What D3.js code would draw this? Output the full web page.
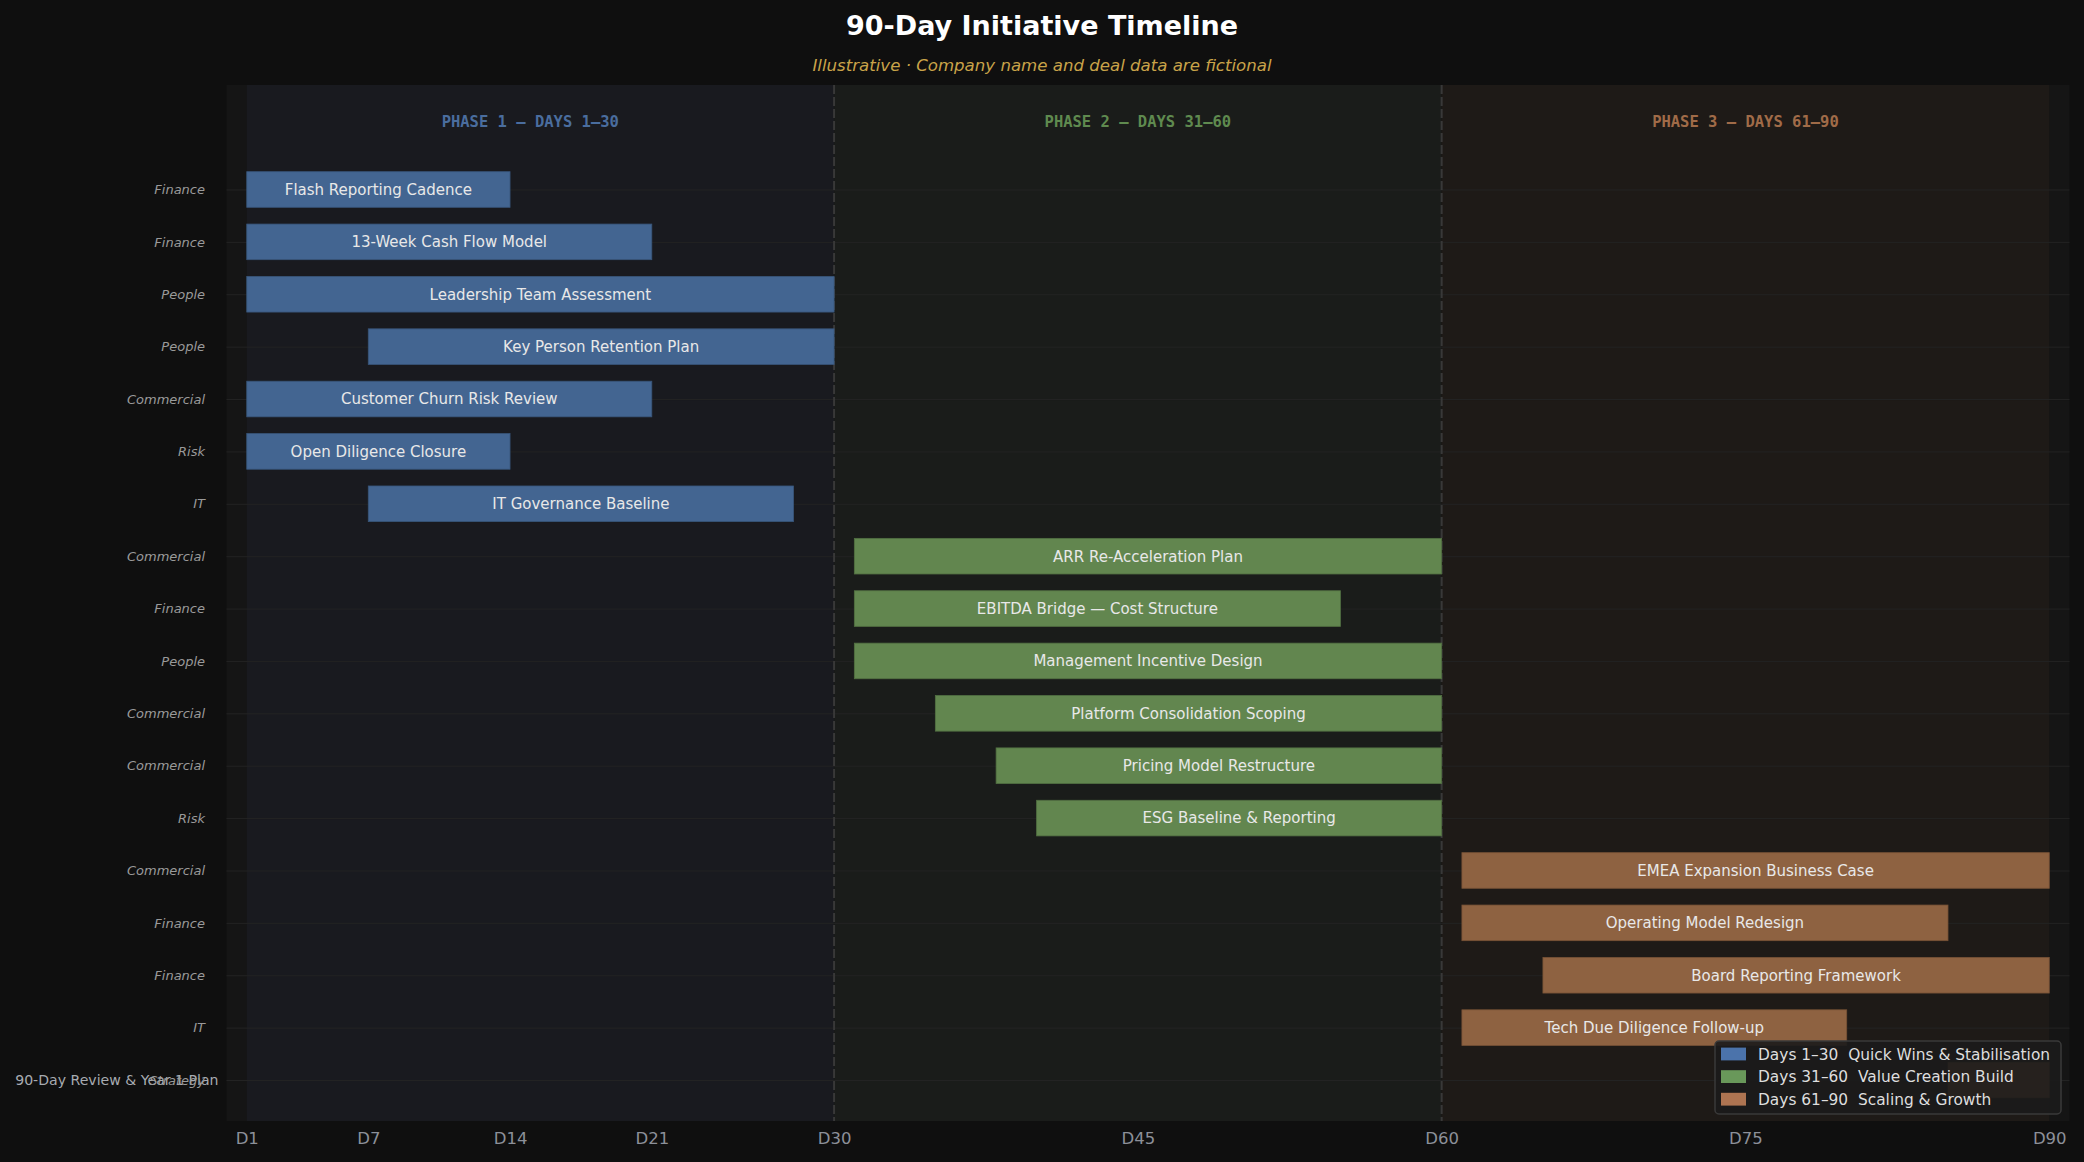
<!DOCTYPE html>
<html>
<head>
<meta charset="utf-8">
<script src="https://cdn.jsdelivr.net/npm/d3@7"></script>
<style>
  html, body { margin: 0; padding: 0; background: #0f0f0f; }
  svg { display: block; }
</style>
</head>
<body>
<div id="chart"></div>
<script>
// ---------------- DATA ----------------
const categories = ["Finance","Finance","People","People","Commercial","Risk","IT",
  "Commercial","Finance","People","Commercial","Commercial","Risk",
  "Commercial","Finance","Finance","IT","Strategy"];
const initiatives = ["Flash Reporting Cadence","13-Week Cash Flow Model","Leadership Team Assessment",
  "Key Person Retention Plan","Customer Churn Risk Review","Open Diligence Closure","IT Governance Baseline",
  "ARR Re-Acceleration Plan","EBITDA Bridge \u2014 Cost Structure","Management Incentive Design",
  "Platform Consolidation Scoping","Pricing Model Restructure","ESG Baseline & Reporting",
  "EMEA Expansion Business Case","Operating Model Redesign","Board Reporting Framework",
  "Tech Due Diligence Follow-up","90-Day Review & Year 1 Plan"];
const startDays = [1,1,1,7,1,1,7, 31,31,31,35,38,40, 61,61,65,61,85];
const endDays   = [14,21,30,30,21,14,28, 60,55,60,60,60,60, 90,85,90,80,90];
const phaseOf   = [1,1,1,1,1,1,1, 2,2,2,2,2,2, 3,3,3,3,3];

const phaseIds = [1,2,3];
const phaseStart = [1,30,60];
const phaseEnd = [30,60,90];
const phaseLabelDay = [15,45,75];
const phaseLabels = ["PHASE 1 \u2014 DAYS 1\u201330","PHASE 2 \u2014 DAYS 31\u201360","PHASE 3 \u2014 DAYS 61\u201390"];
const legendLabels = ["Days 1\u201330  Quick Wins & Stabilisation","Days 31\u201360  Value Creation Build","Days 61\u201390  Scaling & Growth"];
const dividerDays = [30,60];
const tickDays = [1,7,14,21,30,45,60,75,90];
const tickLabels = ["D1","D7","D14","D21","D30","D45","D60","D75","D90"];

// ---------------- STYLE ----------------
const W = 2084, H = 1162;
const barColor = {1:"#436591", 2:"#62864f", 3:"#8e6241"};
const swatchColor = {1:"#4b73ab", 2:"#69985a", 3:"#ae7451"};
const bandColor = {1:"#191a1f", 2:"#1a1c1a", 3:"#1e1a17"};
const phaseTextColor = {1:"#4a6d9e", 2:"#5f8a4f", 3:"#a06b48"};
const FONT = "'DejaVu Sans', sans-serif";
const MONO = "'DejaVu Sans Mono', monospace";

const panelTop = 85, panelBottom = 1121;

const svg = d3.select("#chart").append("svg").attr("width", W).attr("height", H);
svg.append("rect").attr("width", W).attr("height", H).attr("fill", "#0f0f0f");

const x = d3.scaleLinear().domain([0, 91]).range([226.5, 2069.5]);
const y = d3.scaleBand().domain(d3.range(categories.length))
  .range([163.3, 1106.2]).paddingInner(0.32).paddingOuter(0.16);
const yc = i => y(i) + y.bandwidth() / 2;

// panel
svg.append("rect").attr("x", x(0)).attr("y", panelTop)
  .attr("width", x(91) - x(0)).attr("height", panelBottom - panelTop)
  .attr("fill", "#151515");

// phase bands
svg.selectAll("rect.band").data(phaseIds).join("rect").attr("class","band")
  .attr("x", p => x(phaseStart[p-1])).attr("y", panelTop)
  .attr("width", p => x(phaseEnd[p-1]) - x(phaseStart[p-1]))
  .attr("height", panelBottom - panelTop)
  .attr("fill", p => bandColor[p]);

// grid lines
svg.selectAll("line.grid").data(d3.range(categories.length)).join("line").attr("class","grid")
  .attr("x1", x(0)).attr("x2", x(91))
  .attr("y1", i => yc(i) + 0.5).attr("y2", i => yc(i) + 0.5)
  .attr("stroke", "#232323").attr("stroke-width", 1);

// dividers
svg.selectAll("line.div").data(dividerDays).join("line").attr("class","div")
  .attr("x1", d => x(d)).attr("x2", d => x(d))
  .attr("y1", panelTop).attr("y2", panelBottom)
  .attr("stroke", "#383838").attr("stroke-width", 2).attr("stroke-dasharray", "9,3");

// phase labels
svg.selectAll("text.phase").data(phaseIds).join("text").attr("class","phase")
  .attr("x", p => x(phaseLabelDay[p-1])).attr("y", 127)
  .attr("text-anchor", "middle")
  .attr("font-family", MONO).attr("font-weight", "bold").attr("font-size", "15.5px")
  .attr("fill", p => phaseTextColor[p])
  .text(p => phaseLabels[p-1]);

// bars
const idx = d3.range(categories.length);
svg.selectAll("rect.bar").data(idx).join("rect").attr("class","bar")
  .attr("x", i => x(startDays[i])).attr("y", i => y(i))
  .attr("width", i => x(endDays[i]) - x(startDays[i]))
  .attr("height", y.bandwidth())
  .attr("fill", i => barColor[phaseOf[i]])
  .attr("stroke", i => d3.color(barColor[phaseOf[i]]).darker(0.5))
  .attr("stroke-width", 0.8);

// bar labels
svg.selectAll("text.blabel").data(idx).join("text").attr("class","blabel")
  .each(function(i) {
    const w = x(endDays[i]) - x(startDays[i]);
    const t = d3.select(this);
    if (w < 150) {
      t.attr("x", x(0) - 8).attr("text-anchor", "end").attr("fill", "#a7abb1")
       .attr("font-size", "14.1px");
    } else {
      t.attr("x", (x(startDays[i]) + x(endDays[i])) / 2).attr("text-anchor", "middle")
       .attr("fill", "#e8e8e8").attr("font-size", "15px");
    }
  })
  .attr("y", i => yc(i)).attr("dy", "0.36em")
  .attr("font-family", FONT)
  .text(i => initiatives[i]);

// y labels
svg.selectAll("text.ylab").data(idx).join("text").attr("class","ylab")
  .attr("x", 205).attr("y", i => yc(i)).attr("dy", "0.36em")
  .attr("text-anchor", "end").attr("font-family", FONT).attr("font-style", "italic")
  .attr("font-size", "13px").attr("fill", "#9a9a9a")
  .text(i => categories[i]);

// x axis
const xAxis = d3.axisBottom(x).tickValues(tickDays)
  .tickFormat((d, k) => tickLabels[k]).tickSize(0).tickPadding(0);
const gx = svg.append("g").attr("transform", `translate(0, ${panelBottom})`).call(xAxis);
gx.select(".domain").remove();
gx.selectAll("text").attr("font-family", FONT).attr("font-size", "16.5px")
  .attr("fill", "#8c9099").attr("dy", null).attr("y", 23);

// title
svg.append("text").attr("x", W/2).attr("y", 35).attr("text-anchor", "middle")
  .attr("font-family", FONT).attr("font-weight", "bold").attr("font-size", "27px")
  .attr("fill", "#ffffff").text("90-Day Initiative Timeline");
svg.append("text").attr("x", W/2).attr("y", 71).attr("text-anchor", "middle")
  .attr("font-family", FONT).attr("font-style", "italic").attr("font-size", "16.6px")
  .attr("fill", "#c9a349").text("Illustrative \u00b7 Company name and deal data are fictional");

// legend
const lg = svg.append("g").attr("transform", "translate(1715, 1041)");
lg.append("rect").attr("width", 346).attr("height", 73).attr("rx", 4)
  .attr("fill", "#1b1b1b").attr("fill-opacity", 0.9)
  .attr("stroke", "#3a3a3a").attr("stroke-width", 1.5);
const items = lg.selectAll("g.item").data(phaseIds).join("g").attr("class","item")
  .attr("transform", (p, k) => `translate(0, ${13 + k * 22.6})`);
items.append("rect").attr("x", 6).attr("y", -6.4).attr("width", 25).attr("height", 12.8)
  .attr("fill", p => swatchColor[p]);
items.append("text").attr("x", 43).attr("y", 0).attr("dy", "0.36em")
  .attr("font-family", FONT).attr("font-size", "15.4px").attr("fill", "#dedede")
  .style("white-space", "pre").attr("xml:space", "preserve")
  .text(p => legendLabels[p-1]);
</script>
</body>
</html>
